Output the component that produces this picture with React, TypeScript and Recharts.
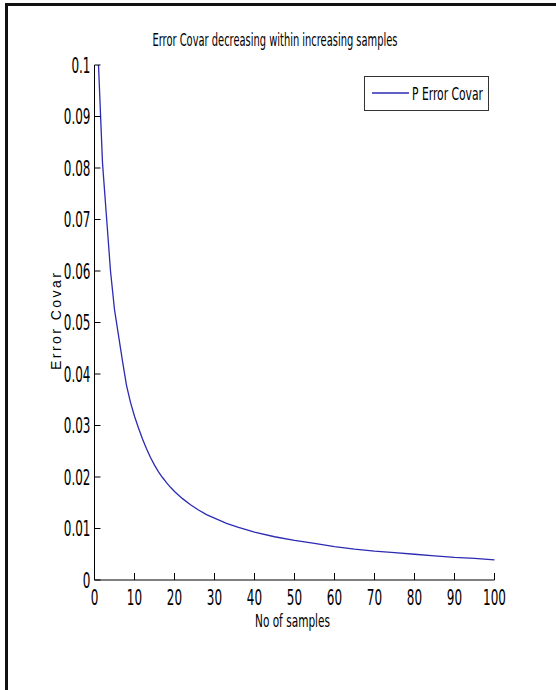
import React from 'react';
import { LineChart, Line, XAxis, YAxis, Legend, Label } from 'recharts';

// sample index and the error covariance
const sampleIdx = [
  1, 2, 3, 4, 5, 6, 7, 8, 9, 10, 11, 12, 13, 14, 15, 16, 17, 18, 19, 20,
  22, 24, 26, 28, 30, 33, 36, 40, 45, 50, 55, 60, 65, 70, 75, 80, 85, 90, 95, 100,
];
const errorCovar = [
  0.1, 0.081, 0.0705, 0.06, 0.0525, 0.0475, 0.0425, 0.0378, 0.0345, 0.0318,
  0.0295, 0.0274, 0.0255, 0.0238, 0.0223, 0.021, 0.0199, 0.0189, 0.018, 0.0172,
  0.0158, 0.0146, 0.0136, 0.0127, 0.012, 0.011, 0.0102, 0.0093, 0.0084, 0.0077,
  0.0071, 0.0065, 0.006, 0.0056, 0.0053, 0.005, 0.0047, 0.0044, 0.0042, 0.0039,
];
const xTicks = [0, 10, 20, 30, 40, 50, 60, 70, 80, 90, 100];
const yTicks = [0, 0.01, 0.02, 0.03, 0.04, 0.05, 0.06, 0.07, 0.08, 0.09, 0.1];
const yTickLabels = ['0', '0.01', '0.02', '0.03', '0.04', '0.05', '0.06', '0.07', '0.08', '0.09', '0.1'];

const data = sampleIdx.map((k, i) => ({ k, p: errorCovar[i] }));

const NARROW = '"Liberation Sans Narrow", "DejaVu Sans Condensed", Arial, sans-serif';
const LINE_COLOR = '#2b2bb4';

const XTick = (props: any) => {
  const { x, y, payload } = props;
  return (
    <g>
      <line x1={x} y1={y} x2={x} y2={y - 7} stroke="#000" />
      <text
        transform={`translate(${x},${y + 25}) scale(0.635,1)`}
        textAnchor="middle"
        fontSize={21}
        fontFamily={NARROW}
        fill="#000"
      >
        {payload.value}
      </text>
    </g>
  );
};

const YTick = (props: any) => {
  const { x, y, payload } = props;
  const idx = yTicks.findIndex((t) => Math.abs(t - payload.value) < 1e-9);
  return (
    <g>
      <line x1={x} y1={y} x2={x + 6} y2={y} stroke="#000" />
      <text
        transform={`translate(${x - 4},${y + 7.5}) scale(0.635,1)`}
        textAnchor="end"
        fontSize={21}
        fontFamily={NARROW}
        fill="#000"
      >
        {idx >= 0 ? yTickLabels[idx] : payload.value}
      </text>
    </g>
  );
};

const LegendBox = (props: any) => {
  const item = props.payload && props.payload[0];
  return (
    <div style={{ width: 123, height: 33, border: '1px solid #333', background: '#fff' }}>
      <svg width={123} height={33} style={{ display: 'block', overflow: 'visible' }}>
        <line x1={7} y1={16} x2={44} y2={16} stroke={item ? item.color : LINE_COLOR} strokeWidth={1.3} />
        <text x={47} y={23} fontSize={17} fontFamily={NARROW} textLength={71} lengthAdjust="spacingAndGlyphs" fill="#000">
          P Error Covar
        </text>
      </svg>
    </div>
  );
};

export default function App() {
  return (
    <div
      style={{
        position: 'absolute',
        left: 0,
        top: 0,
        width: 556,
        height: 690,
        overflow: 'hidden',
        background: '#fff',
      }}
    >
      {/* figure frame, only left and top edges are inside the picture */}
      <div
        style={{
          position: 'absolute',
          left: 5,
          top: 3,
          width: 700,
          height: 800,
          borderLeft: '3px solid #111',
          borderTop: '3px solid #111',
        }}
      />
      <LineChart
        width={556}
        height={690}
        data={data}
        margin={{ top: 65, right: 61.5, bottom: 80, left: 54.5 }}
      >
        <text
          x={275}
          y={46}
          textAnchor="middle"
          fontSize={18}
          fontFamily={NARROW}
          textLength={245}
          lengthAdjust="spacingAndGlyphs"
          fill="#000"
        >
          Error Covar decreasing within increasing samples
        </text>
        <XAxis
          dataKey="k"
          type="number"
          domain={[0, 100]}
          ticks={xTicks}
          interval={0}
          height={30}
          tickSize={0}
          tickMargin={0}
          tickLine={false}
          axisLine={{ stroke: '#000' }}
          tick={<XTick />}
        >
          <Label
            content={(p: any) => {
              const vb = p.viewBox;
              return (
                <text
                  x={vb.x + vb.width / 2 - 2}
                  y={627}
                  textAnchor="middle"
                  fontSize={17}
                  fontFamily={NARROW}
                  textLength={75}
                  lengthAdjust="spacingAndGlyphs"
                  fill="#000"
                >
                  No of samples
                </text>
              );
            }}
          />
        </XAxis>
        <YAxis
          type="number"
          domain={[0, 0.1]}
          ticks={yTicks}
          interval={0}
          width={40}
          tickSize={0}
          tickMargin={0}
          tickLine={false}
          axisLine={{ stroke: '#000' }}
          tick={<YTick />}
        >
          <Label
            content={(p: any) => {
              const vb = p.viewBox;
              const cx = vb.x + 1;
              const cy = vb.y + vb.height / 2 - 1;
              return (
                <text
                  x={cx}
                  y={cy}
                  transform={`rotate(-90, ${cx}, ${cy})`}
                  textAnchor="middle"
                  dominantBaseline="central"
                  fontSize={14}
                  fontFamily='"Liberation Sans", Arial, sans-serif'
                  textLength={97}
                  lengthAdjust="spacing"
                  fill="#000"
                >
                  Error Covar
                </text>
              );
            }}
          />
        </YAxis>
        <Legend
          layout="horizontal"
          verticalAlign="middle"
          align="center"
          wrapperStyle={{ left: 364, top: 76, width: 125, height: 35 }}
          content={<LegendBox />}
        />
        <Line
          type="linear"
          dataKey="p"
          name="P Error Covar"
          stroke={LINE_COLOR}
          strokeWidth={1.3}
          dot={false}
          activeDot={false}
          isAnimationActive={false}
        />
      </LineChart>
    </div>
  );
}
